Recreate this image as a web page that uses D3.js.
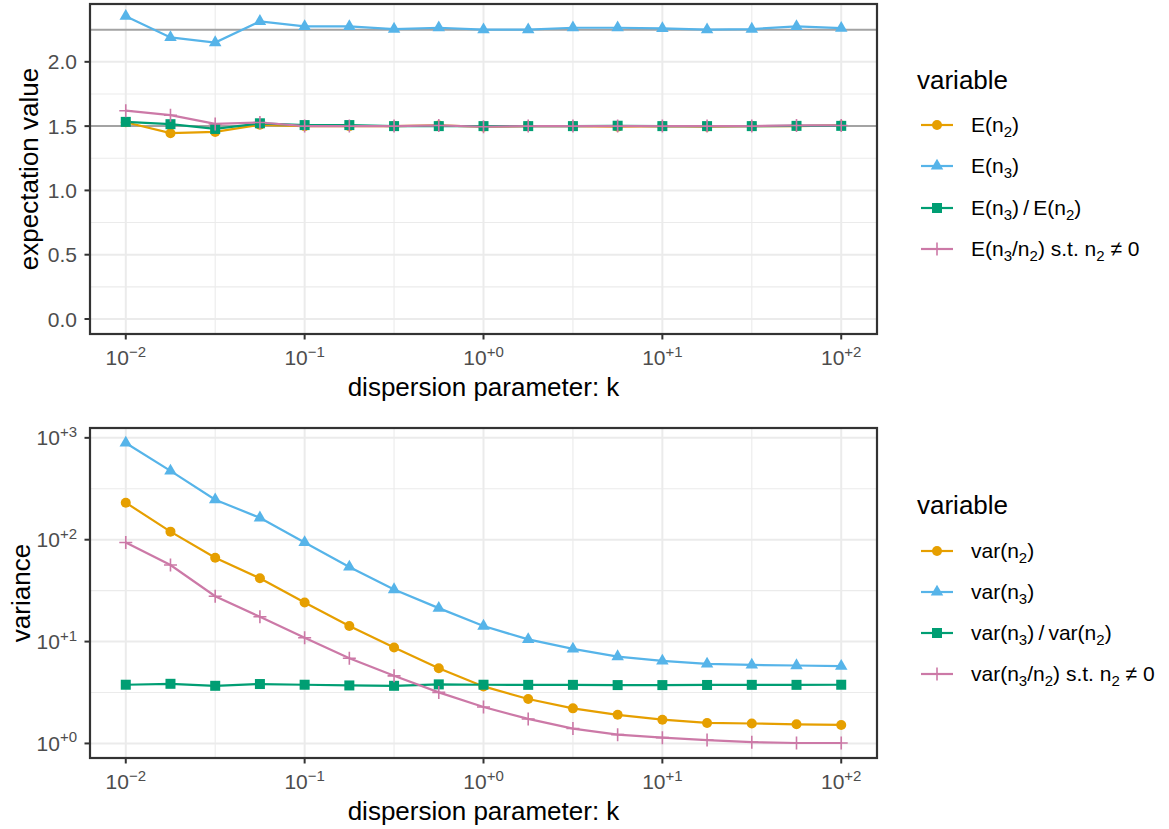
<!DOCTYPE html>
<html><head><meta charset="utf-8">
<script src="https://cdn.jsdelivr.net/npm/d3@7"></script>
<style>body{margin:0;background:#fff;} svg{display:block;} text{font-family:"Liberation Sans",Arial,sans-serif;}</style>
</head><body>
<svg id="c" width="1169" height="829"></svg>
<script>
// ---- data ----
const kValues = [0.01, 0.01778, 0.03162, 0.05623, 0.1, 0.1778, 0.3162, 0.5623, 1, 1.778, 3.162, 5.623, 10, 17.78, 31.62, 56.23, 100];
const xTickValues = [0.01, 0.1, 1, 10, 100];
const xTickLabels = [["10","\u22122"],["10","\u22121"],["10","+0"],["10","+1"],["10","+2"]];

const expN2 = [1.53, 1.445, 1.455, 1.51, 1.50, 1.50, 1.50, 1.505, 1.495, 1.50, 1.50, 1.495, 1.50, 1.495, 1.50, 1.50, 1.505];
const expN3 = [2.355, 2.19, 2.15, 2.315, 2.275, 2.275, 2.255, 2.265, 2.25, 2.25, 2.265, 2.265, 2.26, 2.25, 2.255, 2.275, 2.262];
const expRatio = [1.533, 1.515, 1.478, 1.522, 1.508, 1.508, 1.50, 1.50, 1.50, 1.50, 1.50, 1.503, 1.50, 1.50, 1.50, 1.502, 1.502];
const expCond = [1.62, 1.585, 1.517, 1.528, 1.50, 1.50, 1.50, 1.505, 1.495, 1.50, 1.50, 1.50, 1.50, 1.50, 1.50, 1.505, 1.505];
const expRefLines = [2.25, 1.5];
const expTicks = [0, 0.5, 1.0, 1.5, 2.0];
const expTickLabels = ["0.0", "0.5", "1.0", "1.5", "2.0"];
const expLimits = [0, 2.333];

const varN2 = [231, 120, 66.6, 41.8, 24.2, 14.2, 8.73, 5.48, 3.63, 2.73, 2.21, 1.91, 1.71, 1.59, 1.57, 1.54, 1.52];
const varN3 = [890, 474, 247, 164, 94, 54, 32.4, 21.3, 14.2, 10.5, 8.47, 7.13, 6.46, 6.03, 5.9, 5.82, 5.73];
const varRatio = [3.77, 3.85, 3.68, 3.83, 3.77, 3.71, 3.68, 3.8, 3.77, 3.76, 3.76, 3.74, 3.74, 3.75, 3.76, 3.76, 3.77];
const varCond = [94, 56.4, 27.9, 17.5, 10.9, 6.87, 4.61, 3.17, 2.28, 1.74, 1.40, 1.22, 1.14, 1.08, 1.03, 1.01, 1.01];
const varTicks = [1, 10, 100, 1000];
const varTickLabels = [["10","+0"],["10","+1"],["10","+2"],["10","+3"]];

const expNames = ["E(n_2)", "E(n_3)", "E(n_3)\u2009/\u2009E(n_2)", "E(n_3/n_2) s.t. n_2 \u2260 0"];
const varNames = ["var(n_2)", "var(n_3)", "var(n_3)\u2009/\u2009var(n_2)", "var(n_3/n_2) s.t. n_2 \u2260 0"];
const colors = ["#E69F00", "#56B4E9", "#009E73", "#CC79A7"];
const shapes = ["circle", "triangle", "square", "plus"];

// ---- drawing ----
const svg = d3.select("#c");
const PX0 = 90, PX1 = 877;
const TICK_FS = 21, TITLE_FS = 26, LEG_FS = 21, SUB_FS = 15;
const x = d3.scaleLog().domain([Math.pow(10,-2.2), Math.pow(10,2.2)]).range([PX0, PX1]);

function richText(sel, str) {
  const parts = [];
  let i = 0, buf = "";
  while (i < str.length) {
    if (str[i] === "_") { if (buf) parts.push({t: buf}); buf = ""; parts.push({t: str[i+1], sub: true}); i += 2; }
    else { buf += str[i]; i++; }
  }
  if (buf) parts.push({t: buf});
  let shifted = false;
  parts.forEach(p => {
    const ts = sel.append("tspan").text(p.t);
    if (p.sub) { ts.attr("font-size", SUB_FS).attr("dy", shifted ? 0 : 5); shifted = true; }
    else if (shifted) { ts.attr("dy", -5); shifted = false; }
  });
}
function supText(sel, base, sup) {
  sel.append("tspan").text(base);
  sel.append("tspan").text(sup).attr("font-size", 15).attr("dy", -8.5);
}

function drawMarker(g, shape, cx, cy, color) {
  if (shape === "circle") g.append("circle").attr("cx", cx).attr("cy", cy).attr("r", 5).attr("fill", color);
  else if (shape === "triangle") {
    const s = 12.5, h = s * Math.sqrt(3) / 2;
    g.append("path").attr("d", `M${cx},${cy - 2*h/3}L${cx + s/2},${cy + h/3}L${cx - s/2},${cy + h/3}Z`).attr("fill", color);
  } else if (shape === "square") g.append("rect").attr("x", cx - 5).attr("y", cy - 5).attr("width", 10).attr("height", 10).attr("fill", color);
  else if (shape === "plus") g.append("path").attr("d", `M${cx - 6.5},${cy}H${cx + 6.5}M${cx},${cy - 6.5}V${cy + 6.5}`).attr("stroke", color).attr("stroke-width", 1.6).attr("fill", "none");
}

function panel(opts) {
  const {y0, y1, y, yMajor, yMinor, yLabels, series, names, legendTitleY, legendRows, yTitle, yTitleX, xTitleY, refLines} = opts;
  const g = svg.append("g");
  g.selectAll(null).data(yMinor).join("line").attr("x1", PX0).attr("x2", PX1).attr("y1", d => y(d)).attr("y2", d => y(d)).attr("stroke", "#EBEBEB").attr("stroke-width", 1.1);
  const xMinor = [Math.pow(10,-1.5), Math.pow(10,-0.5), Math.pow(10,0.5), Math.pow(10,1.5)];
  g.selectAll(null).data(xMinor).join("line").attr("y1", y0).attr("y2", y1).attr("x1", d => x(d)).attr("x2", d => x(d)).attr("stroke", "#EBEBEB").attr("stroke-width", 1.1);
  g.selectAll(null).data(yMajor).join("line").attr("x1", PX0).attr("x2", PX1).attr("y1", d => y(d)).attr("y2", d => y(d)).attr("stroke", "#EBEBEB").attr("stroke-width", 2);
  g.selectAll(null).data(xTickValues).join("line").attr("y1", y0).attr("y2", y1).attr("x1", d => x(d)).attr("x2", d => x(d)).attr("stroke", "#EBEBEB").attr("stroke-width", 2);
  if (refLines) g.selectAll(null).data(refLines).join("line").attr("x1", PX0).attr("x2", PX1).attr("y1", d => y(d)).attr("y2", d => y(d)).attr("stroke", "#A3A3A3").attr("stroke-width", 2);
  const line = d3.line().x((d, i) => x(kValues[i])).y(d => y(d));
  series.forEach((s, si) => g.append("path").attr("d", line(s)).attr("fill", "none").attr("stroke", colors[si]).attr("stroke-width", 2.2));
  series.forEach((s, si) => s.forEach((v, i) => drawMarker(g, shapes[si], x(kValues[i]), y(v), colors[si])));
  g.append("rect").attr("x", PX0).attr("y", y0).attr("width", PX1 - PX0).attr("height", y1 - y0).attr("fill", "none").attr("stroke", "#333333").attr("stroke-width", 2.2);
  g.selectAll(null).data(xTickValues).join("line").attr("x1", d => x(d)).attr("x2", d => x(d)).attr("y1", y1).attr("y2", y1 + 5.5).attr("stroke", "#333333").attr("stroke-width", 2);
  g.selectAll(null).data(yMajor).join("line").attr("x1", PX0 - 5.5).attr("x2", PX0).attr("y1", d => y(d)).attr("y2", d => y(d)).attr("stroke", "#333333").attr("stroke-width", 2);
  xTickValues.forEach((v, i) => {
    const t = g.append("text").attr("x", x(v)).attr("y", y1 + 31).attr("text-anchor", "middle").attr("font-size", TICK_FS).attr("fill", "#4D4D4D");
    supText(t, xTickLabels[i][0], xTickLabels[i][1]);
  });
  yMajor.forEach((v, i) => {
    const t = g.append("text").attr("x", 77).attr("y", y(v) + 7.5).attr("text-anchor", "end").attr("font-size", TICK_FS).attr("fill", "#4D4D4D");
    const lab = yLabels[i];
    if (Array.isArray(lab)) supText(t, lab[0], lab[1]); else t.text(lab);
  });
  g.append("text").attr("x", (PX0 + PX1) / 2).attr("y", xTitleY).attr("text-anchor", "middle").attr("font-size", TITLE_FS).attr("fill", "#000").text("dispersion parameter: k");
  g.append("text").attr("transform", `translate(${yTitleX},${(y0 + y1) / 2}) rotate(-90)`).attr("text-anchor", "middle").attr("font-size", TITLE_FS).attr("fill", "#000").text(yTitle);
  g.append("text").attr("x", 917).attr("y", legendTitleY).attr("font-size", TITLE_FS).attr("fill", "#000").text("variable");
  names.forEach((n, i) => {
    const ry = legendRows[i];
    g.append("line").attr("x1", 921).attr("x2", 953).attr("y1", ry).attr("y2", ry).attr("stroke", colors[i]).attr("stroke-width", 2.2);
    drawMarker(g, shapes[i], 937, ry, colors[i]);
    const t = g.append("text").attr("x", 971).attr("y", ry + 7).attr("font-size", LEG_FS).attr("fill", "#000");
    richText(t, n);
  });
}

const tY0 = 4, tY1 = 334;
const eSpan = expLimits[1] - expLimits[0];
const yTop = d3.scaleLinear().domain([expLimits[0] - 0.05 * eSpan, expLimits[1] + 0.05 * eSpan]).range([tY1, tY0]);
panel({y0: tY0, y1: tY1, y: yTop, yMajor: expTicks, yMinor: [0.25, 0.75, 1.25, 1.75, 2.25], yLabels: expTickLabels,
  series: [expN2, expN3, expRatio, expCond], names: expNames, legendTitleY: 89, legendRows: [125, 166, 208, 249],
  yTitle: "expectation value", yTitleX: 38, xTitleY: 396, refLines: expRefLines});

const bY0 = 428, bY1 = 758;
const allVar = [].concat(varN2, varN3, varRatio, varCond).map(Math.log10);
const lmin = d3.min(allVar), lmax = d3.max(allVar), lsp = lmax - lmin;
const yBot = d3.scaleLog().domain([Math.pow(10, lmin - 0.05 * lsp), Math.pow(10, lmax + 0.05 * lsp)]).range([bY1, bY0]);
panel({y0: bY0, y1: bY1, y: yBot, yMajor: varTicks, yMinor: [Math.pow(10,0.5), Math.pow(10,1.5), Math.pow(10,2.5)], yLabels: varTickLabels,
  series: [varN2, varN3, varRatio, varCond], names: varNames, legendTitleY: 514, legendRows: [551, 592, 633, 674],
  yTitle: "variance", yTitleX: 30, xTitleY: 820});
</script>
</body></html>
